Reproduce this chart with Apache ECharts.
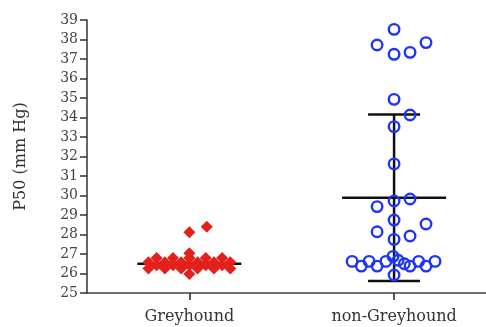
<!DOCTYPE html>
<html><head><meta charset="utf-8">
<script src="https://cdn.jsdelivr.net/npm/echarts@6/dist/echarts.min.js"></script>
<style>html,body{margin:0;padding:0;background:#fff}#c{width:486px;height:327px}</style>
</head><body><div id="c"></div>
<script>
var categories = ['Greyhound', 'non-Greyhound'];
var yTicks = [25,26,27,28,29,30,31,32,33,34,35,36,37,38,39];
// Greyhound values and beeswarm offsets (in category-width units)
var greyValues  = [28.11, 28.40, 27.04, 26.80, 26.80, 26.80, 26.80, 26.80, 26.58, 26.58, 26.58, 26.58, 26.58, 26.58, 26.42, 26.42, 26.42, 26.42, 26.42, 26.26, 26.26, 26.26, 26.26, 26.26, 26.26, 25.98];
var greyOffsets = [0.00, 0.085, 0.00, -0.16, -0.08, 0.00, 0.08, 0.16, -0.20, -0.12, -0.04, 0.04, 0.12, 0.20, -0.16, -0.08, 0.00, 0.08, 0.16, -0.20, -0.12, -0.04, 0.04, 0.12, 0.20, 0.00];
// non-Greyhound values and offsets
var nonValues  = [38.52, 37.72, 37.24, 37.34, 37.84, 34.93, 34.13, 33.53, 31.62, 29.43, 29.72, 29.82, 28.74, 28.54, 28.14, 27.92, 27.75, 26.62, 26.62, 26.62, 26.62, 26.62, 26.38, 26.38, 26.38, 26.38, 26.88, 26.68, 26.50, 25.92];
var nonOffsets = [0.00, -0.083, 0.00, 0.078, 0.156, 0.00, 0.078, 0.00, 0.00, -0.083, 0.00, 0.078, 0.00, 0.156, -0.083, 0.078, 0.00, -0.205, -0.122, -0.04, 0.12, 0.20, -0.16, -0.083, 0.078, 0.156, -0.005, 0.02, 0.05, 0.00];
// mean and SD whiskers
var means = [26.50, 29.89];
var lowers = [26.45, 25.62];
var uppers = [26.55, 34.16];

var greyData = greyValues.map(function(v,i){return [1 + greyOffsets[i], v];});
var nonData = nonValues.map(function(v,i){return [2 + nonOffsets[i], v];});
var barData = means.map(function(m,i){return [i+1, m, lowers[i], uppers[i]];});

var chart = echarts.init(document.getElementById('c'), null, {renderer:'canvas'});
var serif = 'DejaVu Serif';
chart.setOption({
  animation: false,
  grid: {left: 87, right: 0, top: 20, bottom: 34},
  xAxis: {
    type: 'value', min: 0.5, max: 2.449,
    splitLine: {show: false},
    axisLine: {lineStyle: {color: '#444', width: 1.5}},
    axisTick: {show: true, customValues: [1,2], length: 7, lineStyle: {color: '#222', width: 1.5}},
    axisLabel: {show: true, customValues: [1,2], margin: 16, fontFamily: serif, fontSize: 16, color: '#333',
      formatter: function(v){ return categories[Math.round(v)-1] || ''; }}
  },
  yAxis: {
    type: 'value', min: 25, max: 39, interval: 1,
    name: 'P50 (mm Hg)', nameLocation: 'middle', nameGap: 58, nameRotate: 90,
    nameTextStyle: {fontFamily: serif, fontSize: 16, color: '#333'},
    splitLine: {show: false},
    axisLine: {show: true, lineStyle: {color: '#333', width: 1.5}},
    axisTick: {show: true, length: 7, lineStyle: {color: '#333', width: 1.5}},
    axisLabel: {margin: 9, fontFamily: serif, fontSize: 14, color: '#444',
      formatter: function(v){ return yTicks.indexOf(v) >= 0 ? String(v) : ''; }}
  },
  series: [
    {
      type: 'custom', z: 1,
      data: barData,
      renderItem: function(params, api){
        var x = api.value(0);
        var m = api.coord([x, api.value(1)]);
        var lo = api.coord([x, api.value(2)]);
        var hi = api.coord([x, api.value(3)]);
        var st = {stroke: '#111', lineWidth: 2.5};
        return {type: 'group', children: [
          {type: 'line', shape: {x1: m[0]-52, y1: m[1], x2: m[0]+52, y2: m[1]}, style: st},
          {type: 'line', shape: {x1: lo[0], y1: lo[1], x2: hi[0], y2: hi[1]}, style: st},
          {type: 'line', shape: {x1: hi[0]-26, y1: hi[1], x2: hi[0]+26, y2: hi[1]}, style: st},
          {type: 'line', shape: {x1: lo[0]-26, y1: lo[1], x2: lo[0]+26, y2: lo[1]}, style: st}
        ]};
      }
    },
    {
      type: 'scatter', z: 3, data: greyData,
      symbol: 'diamond', symbolSize: 12,
      itemStyle: {color: '#e3211a', opacity: 1}
    },
    {
      type: 'scatter', z: 3, data: nonData,
      symbol: 'circle', symbolSize: 10.5,
      itemStyle: {color: 'rgba(255,255,255,0)', borderColor: '#1f35f5', borderWidth: 2.4, opacity: 1}
    }
  ]
});
</script></body></html>
